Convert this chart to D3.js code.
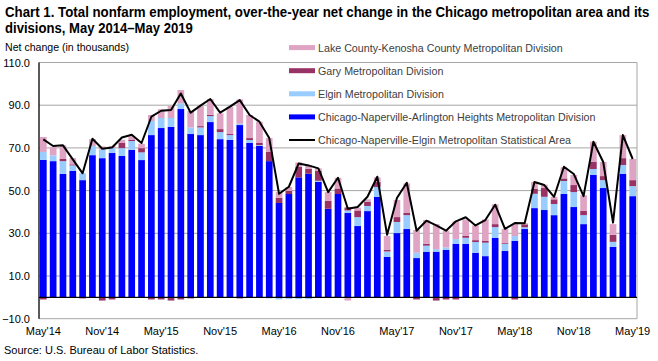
<!DOCTYPE html>
<html>
<head>
<meta charset="utf-8">
<script src="https://cdn.jsdelivr.net/npm/d3@7"></script>
<style>
  body { margin: 0; background: #fff; }
  svg text { font-family: "Liberation Sans", Arial, sans-serif; }
  .title { font-family: "Liberation Sans Narrow", "Arial Narrow", "Liberation Sans", sans-serif; font-weight: bold; font-size: 15.5px; }
  .small { font-size: 11px; }
  .legend text { font-size: 10.7px; fill: #404040; }
</style>
</head>
<body>
<svg id="chart" width="658" height="361"></svg>
<script>
// series, thousands, May 2014 .. May 2019
var chicagoArl = [64.4,63.8,57.8,59.2,54.9,66.6,65.2,67.6,66.2,69.1,64.3,76.0,79.3,79.8,88.2,76.5,76.0,82.1,74.1,73.7,80.7,72.3,70.9,63.8,44.2,48.4,56.2,57.9,54.1,41.5,48.4,39.5,33.4,40.4,47.0,18.9,30.1,32.0,18.4,21.4,21.4,22.2,25.1,25.1,20.9,19.3,27.8,21.7,26.4,32.0,41.8,40.9,38.5,48.4,42.3,34.3,57.3,51.2,23.6,57.8,47.4];
var elgin      = [3.7,2.7,6.0,2.6,3.2,4.3,4.1,2.3,3.7,4.1,3.6,6.6,4.7,4.2,2.7,3.1,3.6,2.8,3.3,2.3,0.6,1.4,0.4,-0.5,-1.0,-0.8,-0.8,-0.8,0.5,0,0,1.2,4.2,2.4,4.7,2.6,5.2,6.5,2.5,2.8,1.2,1.2,2.2,2.8,5.0,6.3,5.1,3.4,2.3,0.8,6.7,6.2,5.2,6.1,7.0,4.2,2.8,3.7,2.4,4.2,4.7];
var gary       = [-1.0,0,1.0,0.5,-0.5,0,-1.5,-1.0,2.4,0.5,2.0,-1.0,-1.0,-1.5,-1.0,-0.5,0.6,0.6,1.4,0.5,-0.5,0.9,1.0,4.3,2.4,1.5,5.0,2.3,4.6,3.7,2.6,1.4,3.1,2.0,2.3,0.7,2.3,1.0,-1.0,0.9,-1.5,-1.0,-1.0,1.0,0.9,0.8,1.4,0.5,-1.0,1.4,2.4,4.1,2.2,1.2,3.3,2.1,3.3,1.9,3.3,3.2,2.8];
var lake       = [7.0,4.0,6.4,2.9,0,3.2,1.4,1.0,1.5,1.8,2.0,2.8,4.1,5.6,6.2,7.7,9.4,7.4,7.4,12.8,11.4,10.8,10.0,6.5,2.7,1.8,2.0,1.3,1.2,4.1,5.0,-1.5,1.3,1.1,2.2,6.5,8.0,13.9,10.6,11.1,11.7,7.8,8.3,7.6,6.9,10.1,9.3,6.5,5.6,0.5,3.1,1.6,1.2,5.2,4.7,7.2,9.5,6.6,5.0,10.8,9.9];
var msa        = [74.0,70.9,71.2,64.6,58.1,74.3,69.6,70.2,74.9,76.2,72.3,84.6,87.4,87.7,95.5,86.5,89.8,92.9,86.5,89.3,92.4,85.4,82.3,74.6,48.5,51.8,62.7,61.8,60.4,49.3,56.0,41.5,42.3,47.1,56.5,29.3,46.5,53.7,31.2,35.9,33.7,31.2,35.6,37.5,33.7,36.2,43.4,32.1,34.8,34.7,54.0,52.6,47.1,61.2,57.8,47.4,72.9,63.4,35.0,76.0,64.8];

var months = d3.timeMonth.range(new Date(2014, 4, 1), new Date(2019, 5, 1));
var tickLabels = ["May'14","Nov'14","May'15","Nov'15","May'16","Nov'16","May'17","Nov'17","May'18","Nov'18","May'19"];
var yTicks = [-10, 10, 30, 50, 70, 90, 110];

(function() {
var keys = ["chicagoArl", "elgin", "gary", "lake"];
var names = {
  lake: "Lake County-Kenosha County Metropolitan Division",
  gary: "Gary Metropolitan Division",
  elgin: "Elgin Metropolitan Division",
  chicagoArl: "Chicago-Naperville-Arlington Heights Metropolitan Division"
};
var color = { chicagoArl: "#0000ff", elgin: "#99ccff", gary: "#993366", lake: "#dfa3c4" };

var rows = months.map(function(m, i) {
  return { i: i, chicagoArl: chicagoArl[i], elgin: elgin[i], gary: gary[i], lake: lake[i], msa: msa[i] };
});

var svg = d3.select("#chart");
var pLeft = 39, pRight = 637, pTop = 62.5, pBottom = 318.7;

var x = d3.scaleBand().domain(d3.range(months.length)).range([pLeft, pRight])
  .paddingInner(0.32).paddingOuter(0.1);
var y = d3.scaleLinear().domain([-10, 110]).range([pBottom, pTop]);

// title, squeezed horizontally to the narrow look of the original
function squeezed(txt, yPos, width) {
  var t = svg.append("text").attr("class", "title").attr("x", 0).attr("y", 0).text(txt);
  var w = t.node().getComputedTextLength();
  t.attr("transform", "translate(5," + yPos + ") scale(" + (width / w) + ",1)");
}
squeezed("Chart 1. Total nonfarm employment, over-the-year net change in the Chicago metropolitan area and its", 16.5, 645);
squeezed("divisions,  May 2014\u2013May  2019", 32.5, 188);

svg.append("text").attr("class", "small").attr("x", 5).attr("y", 51)
  .attr("textLength", 124).attr("lengthAdjust", "spacingAndGlyphs")
  .text("Net change (in thousands)");

// grid
svg.append("g").selectAll("line").data(yTicks).enter().append("line")
  .attr("x1", pLeft).attr("x2", pRight)
  .attr("y1", function(d) { return y(d); }).attr("y2", function(d) { return y(d); })
  .attr("stroke", "#a6a6a6").attr("stroke-width", 1);
svg.append("line").attr("x1", pRight).attr("x2", pRight).attr("y1", y(110)).attr("y2", y(-10))
  .attr("stroke", "#a6a6a6");

// y labels
svg.append("g").selectAll("text").data(yTicks).enter().append("text")
  .attr("class", "small").attr("x", 30).attr("y", function(d) { return y(d) + 4; })
  .attr("text-anchor", "end").text(function(d) { return d3.format(".1f")(d); });

// bars
var series = d3.stack().keys(keys).offset(d3.stackOffsetDiverging)(rows);
svg.append("g").selectAll("g").data(series).enter().append("g")
  .attr("fill", function(s) { return color[s.key]; })
  .selectAll("rect").data(function(s) { return s; }).enter().append("rect")
  .attr("x", function(d) { return x(d.data.i); })
  .attr("width", x.bandwidth())
  .attr("y", function(d) { return y(Math.max(d[0], d[1])); })
  .attr("height", function(d) { return Math.abs(y(d[0]) - y(d[1])); });

// zero line and left axis
svg.append("line").attr("x1", pLeft).attr("x2", pRight).attr("y1", y(0)).attr("y2", y(0))
  .attr("stroke", "#000").attr("stroke-width", 1.3);
svg.append("line").attr("x1", pLeft).attr("x2", pLeft).attr("y1", y(110)).attr("y2", y(-10))
  .attr("stroke", "#000").attr("stroke-width", 1.3);

// msa line
var line = d3.line()
  .x(function(d) { return x(d.i) + x.bandwidth() / 2; })
  .y(function(d) { return y(d.msa); });
svg.append("path").datum(rows).attr("d", line)
  .attr("fill", "none").attr("stroke", "#000").attr("stroke-width", 2).attr("stroke-linejoin", "round");

// x labels
svg.append("g").selectAll("text").data(tickLabels).enter().append("text")
  .attr("class", "small").attr("text-anchor", "middle")
  .attr("x", function(d, k) { return x(k * 6) + x.bandwidth() / 2; })
  .attr("y", 335).text(function(d) { return d; });

svg.append("text").attr("class", "small").attr("x", 4).attr("y", 354)
  .text("Source: U.S. Bureau of Labor Statistics.");

// legend
var lg = svg.append("g").attr("class", "legend");
var legendKeys = ["lake", "gary", "elgin", "chicagoArl"];
legendKeys.forEach(function(k, j) {
  var ly = 47.6 + j * 23.1;
  lg.append("rect").attr("x", 289).attr("y", ly - 2.5).attr("width", 26).attr("height", 5).attr("fill", color[k]);
  lg.append("text").attr("x", 318).attr("y", ly + 4).text(names[k]);
});
var ly5 = 47.6 + 4 * 23.1;
lg.append("line").attr("x1", 289).attr("x2", 315).attr("y1", ly5).attr("y2", ly5)
  .attr("stroke", "#000").attr("stroke-width", 2);
lg.append("text").attr("x", 318).attr("y", ly5 + 4).text("Chicago-Naperville-Elgin Metropolitan Statistical Area");
})();
</script>
</body>
</html>
